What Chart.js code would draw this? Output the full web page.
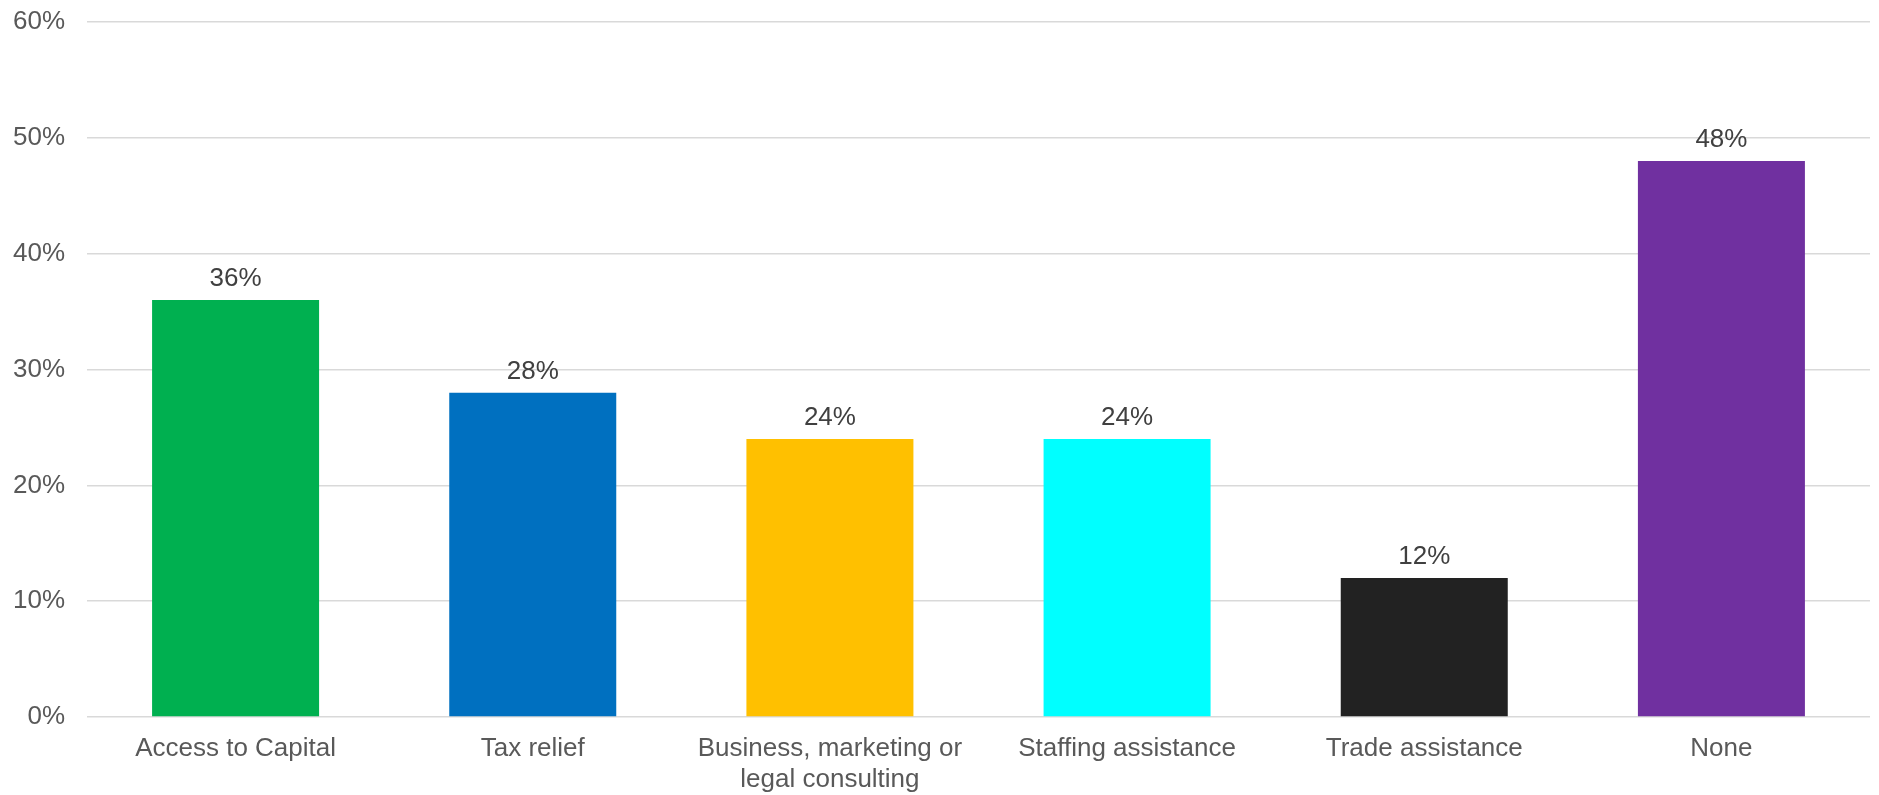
<!DOCTYPE html>
<html>
<head>
<meta charset="utf-8">
<script src="https://cdn.jsdelivr.net/npm/chart.js@4/dist/chart.umd.min.js"></script>
<style>
  html, body { margin: 0; padding: 0; background: #ffffff; }
  #wrap { width: 1879px; height: 795px; }
</style>
</head>
<body>
<div id="wrap"><canvas id="c" width="1879" height="795"></canvas></div>
<script>
// Support types and share of respondents (%)
const categories = [
  'Access to Capital',
  'Tax relief',
  ['Business, marketing or', 'legal consulting'],
  'Staffing assistance',
  'Trade assistance',
  'None'
];
const shares = [36, 28, 24, 24, 12, 48];
const barColors = ['#00b050', '#0070c0', '#ffc000', '#00ffff', '#222222', '#7030a0'];
const yTicks = [0, 10, 20, 30, 40, 50, 60];

const FONT = '"Liberation Sans", Arial, sans-serif';

// Writes each bar's value just above it
const valueLabels = {
  id: 'valueLabels',
  afterDatasetsDraw(chart) {
    const ctx = chart.ctx;
    const meta = chart.getDatasetMeta(0);
    ctx.save();
    ctx.font = '26px ' + FONT;
    ctx.fillStyle = '#404040';
    ctx.textAlign = 'center';
    ctx.textBaseline = 'bottom';
    meta.data.forEach((bar, i) => {
      ctx.fillText(shares[i] + '%', bar.x, bar.y - 8);
    });
    ctx.restore();
  }
};

new Chart(document.getElementById('c'), {
  type: 'bar',
  data: {
    labels: categories,
    datasets: [{
      data: shares,
      backgroundColor: barColors,
      borderWidth: 0,
      categoryPercentage: 1,
      barPercentage: 0.562
    }]
  },
  options: {
    responsive: false,
    animation: false,
    layout: { padding: { top: 22, right: 9, left: 0, bottom: 0 } },
    plugins: { legend: { display: false }, tooltip: { enabled: false } },
    scales: {
      x: {
        grid: { display: false, drawTicks: false },
        border: { display: false },
        ticks: {
          color: '#595959',
          font: { family: FONT, size: 26, lineHeight: 1.2 },
          padding: 16,
          maxRotation: 0,
          autoSkip: false
        },
        afterFit(scale) {
          scale.height = 78;
          scale.paddingLeft = 0;
          scale.paddingRight = 0;
        }
      },
      y: {
        min: 0,
        max: 60,
        afterBuildTicks(scale) { scale.ticks = yTicks.map(v => ({ value: v })); },
        grid: { color: '#d9d9d9', lineWidth: 1.5, drawTicks: false },
        border: { display: false },
        ticks: {
          color: '#595959',
          font: { family: FONT, size: 26 },
          padding: 22,
          callback: v => v + '%'
        },
        afterFit(scale) {
          scale.width = 87;
          scale.paddingTop = 0;
          scale.paddingBottom = 0;
        }
      }
    }
  },
  plugins: [valueLabels]
});
</script>
</body>
</html>
